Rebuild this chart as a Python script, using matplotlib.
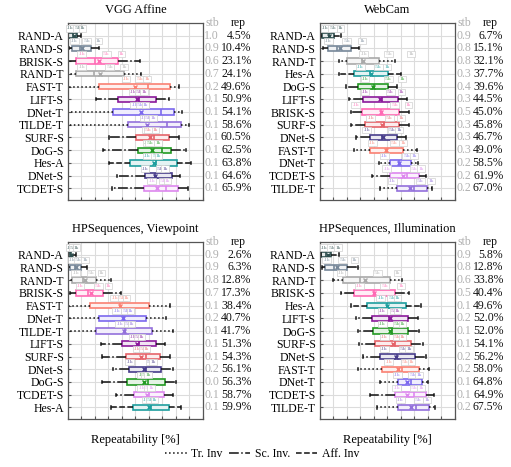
import matplotlib.pyplot as plt
from matplotlib.lines import Line2D
import matplotlib.colors as mcolors

plt.rcParams['font.family'] = 'Liberation Serif'

# ============================== DATA ==============================
# VGG Affine
vgg_names = ['RAND-A', 'RAND-S', 'BRISK-S', 'RAND-T', 'FAST-T', 'LIFT-S', 'DNet-T',
             'TILDE-T', 'SURF-S', 'DoG-S', 'Hes-A', 'DNet-S', 'TCDET-S']
vgg_stb = [1.0, 0.9, 0.6, 0.7, 0.2, 0.1, 0.1, 0.1, 0.1, 0.1, 0.1, 0.1, 0.1]
vgg_rep = [4.5, 10.4, 23.1, 24.1, 49.6, 50.9, 54.1, 58.6, 60.5, 62.5, 63.8, 64.6, 65.9]
vgg_lo = [0, 0.5, 0, 0, 0, 21, 0, 0, 30.4, 26, 30.4, 36.3, 32.8]
vgg_q1 = [0, 3.2, 6.2, 6.2, 22.7, 37, 33.3, 44.4, 50.6, 51.9, 45.7, 56.8, 56]
vgg_med = [4, 8.6, 19.8, 19.3, 59.3, 52.6, 68.6, 73.6, 64, 69.6, 65.4, 64.2, 72.8]
vgg_q3 = [7, 16.8, 37, 41.5, 75.3, 65.4, 78.5, 84, 74.6, 76.5, 80.7, 77.3, 81.5]
vgg_hi = [10, 22.7, 53.6, 54, 82, 74.8, 84.7, 89.6, 82.2, 87.2, 91.4, 82.7, 88.9]
vgg_k1 = [0, 3.2, 8.6, 8.6, 41.5, 46.9, 48, 55, 56.8, 57.3, 57.3, 55.6, 60.5]
vgg_k5 = [5.7, 12.3, 27, 29.6, 51.8, 51.3, 52, 58, 58, 59, 63.5, 66.7, 69.1]
vgg_k10 = [9.4, 21, 38.3, 40.2, 57, 55, 56, 61.7, 63.5, 65.4, 65.7, 70.4, 72.3]

# WebCam
web_names = ['RAND-A', 'RAND-S', 'RAND-T', 'Hes-A', 'DoG-S', 'LIFT-S', 'BRISK-S',
             'SURF-S', 'DNet-S', 'FAST-T', 'DNet-T', 'TCDET-S', 'TILDE-T']
web_stb = [0.9, 0.8, 0.8, 0.3, 0.4, 0.3, 0.5, 0.3, 0.3, 0.3, 0.2, 0.2, 0.2]
web_rep = [6.7, 15.1, 32.1, 37.7, 39.6, 44.5, 45.0, 45.8, 46.7, 49.0, 58.5, 61.9, 67.0]
web_lo = [0.5, 2.5, 14, 14, 19, 21.5, 23.2, 23.2, 26.4, 25.2, 43.7, 38.3, 44.2]
web_q1 = [1.7, 6.2, 19.8, 25.2, 28.4, 31.9, 30.9, 33.8, 37, 37, 51.9, 51.9, 57.3]
web_med = [6.7, 12.8, 30.9, 37.5, 40, 45.7, 45, 47.4, 46, 49.4, 58.5, 64.7, 69.6]
web_q3 = [10.4, 23.2, 43.7, 50.6, 50.6, 58, 59, 58.5, 57.3, 61.5, 67.2, 73.8, 79.5]
web_hi = [15.3, 28.9, 55.6, 59.8, 57.3, 64.7, 66.4, 66.4, 63.5, 72.1, 72.6, 78.8, 83.2]
web_k1 = [2.5, 4.9, 30.9, 28.4, 31.9, 31.9, 25.2, 36.3, 33.3, 37.5, 46.2, 48.1, 52.3]
web_k5 = [7.9, 18.5, 49.4, 41.7, 49.1, 50.6, 54.1, 49.9, 52.3, 53.6, 63, 68.4, 72.8]
web_k10 = [13.6, 29.6, 65.9, 48.1, 59.3, 59, 64, 58.5, 57.3, 60.2, 68.4, 73.3, 80.7]

# HPSequences, Viewpoint
vp_names = ['RAND-A', 'RAND-S', 'RAND-T', 'BRISK-S', 'FAST-T', 'DNet-T', 'TILDE-T',
            'LIFT-S', 'SURF-S', 'DNet-S', 'DoG-S', 'TCDET-S', 'Hes-A']
vp_stb = [0.9, 0.9, 0.8, 0.7, 0.1, 0.2, 0.1, 0.1, 0.1, 0.2, 0.0, 0.1, 0.1]
vp_rep = [2.6, 6.3, 12.8, 17.3, 38.4, 40.7, 41.7, 51.3, 54.3, 56.1, 56.3, 58.7, 59.9]
vp_lo = [0, 0, 0, 1.2, 0, 0, 0, 24.7, 25.4, 33.3, 25.4, 35.3, 31.6]
vp_q1 = [0, 1.2, 3.2, 5.7, 16.5, 23, 21, 40.2, 43.2, 45.2, 44, 48.9, 48.1]
vp_med = [1.5, 5, 11, 14.8, 38.3, 41.2, 42, 53, 58, 57.5, 59.3, 59.8, 61.7]
vp_q3 = [2.5, 9.4, 21, 26, 59.8, 58, 62.2, 65.4, 68.4, 69.1, 72, 70.9, 74.8]
vp_hi = [5.7, 14, 31.6, 39.5, 75.8, 72.8, 77.8, 72, 75.8, 77.8, 80.2, 77.8, 84]
vp_k1 = [0, 1.7, 4.2, 7.4, 33.3, 34.6, 37, 46.9, 49.9, 44.4, 53.1, 53.1, 56.3]
vp_k5 = [2.5, 6.2, 15.6, 21, 38.8, 41.2, 43.2, 50.6, 54.3, 59.3, 55.6, 58, 59.3]
vp_k10 = [4.9, 11.1, 23.5, 28.4, 42, 44.9, 45.7, 53.1, 56.8, 61.7, 58, 60, 62.5]

# HPSequences, Illumination
il_names = ['RAND-A', 'RAND-S', 'RAND-T', 'BRISK-S', 'Hes-A', 'LIFT-S', 'DoG-S',
            'SURF-S', 'DNet-S', 'FAST-T', 'DNet-T', 'TCDET-S', 'TILDE-T']
il_stb = [0.9, 0.8, 0.6, 0.5, 0.1, 0.2, 0.1, 0.1, 0.2, 0.2, 0.1, 0.1, 0.2]
il_rep = [5.8, 12.8, 33.8, 40.4, 49.6, 52.0, 52.0, 54.1, 56.2, 58.0, 64.8, 64.9, 67.5]
il_lo = [0.7, 1.7, 9.6, 15.3, 22.7, 26.4, 28.4, 28.9, 31.9, 28.4, 44.2, 37.5, 42.5]
il_q1 = [0.7, 3.7, 17, 25.2, 35, 38.8, 39.3, 41.2, 44.2, 46.2, 58, 55.6, 58]
il_med = [4.2, 10.4, 29.6, 40, 49.9, 51.1, 53.6, 55.6, 57.3, 61, 67.2, 69.6, 70.9]
il_q3 = [7.9, 19.8, 51.9, 56, 64.2, 65.2, 65.2, 67.7, 70.4, 73.3, 75.8, 78.8, 80.7]
il_hi = [14, 28.4, 61, 66.4, 75, 72.8, 73.3, 76.5, 78.8, 81.2, 80.2, 84.4, 85.7]
il_k1 = [1.7, 3.7, 14.1, 27.7, 43.7, 44.9, 44.9, 46.2, 46.2, 49.4, 56, 55.6, 58]
il_k5 = [7.2, 15.3, 41.2, 46.7, 51.9, 53.6, 56, 56, 60.2, 61.7, 67.2, 68.4, 71.4]
il_k10 = [12.1, 24, 56, 58.5, 56, 56, 59.8, 59.8, 64.7, 66.4, 72.1, 73.3, 77.8]

# ============================== STYLE ==============================
colors = {
    'RAND-A': '#2f4f4f', 'RAND-S': '#778899', 'RAND-T': '#a9a9a9',
    'BRISK-S': '#ff69b4', 'FAST-T': '#fa8072', 'LIFT-S': '#8b1a9b',
    'DNet-T': '#7b68ee', 'TILDE-T': '#9370db', 'SURF-S': '#e5646a',
    'DoG-S': '#229922', 'Hes-A': '#1e9e9e', 'DNet-S': '#483d8b',
    'TCDET-S': '#dd88ee',
}
linestyles = {'T': ':', 'S': '-.', 'A': '--'}


def lighten(c, f=0.88):
    r, g, b = mcolors.to_rgb(c)
    return (r + (1 - r) * f, g + (1 - g) * f, b + (1 - b) * f)


def panel(ax, title, names, stb, rep, lo, q1, med, q3, hi, k1, k5, k10, xlabel=False):
    for i, n in enumerate(names):
        c = colors[n]
        st = [dict(whislo=lo[i], q1=q1[i], med=med[i], q3=q3[i], whishi=hi[i],
                   mean=rep[i], fliers=[])]
        ax.bxp(st, positions=[i], widths=0.42, orientation='horizontal',
               showmeans=True, patch_artist=True, manage_ticks=False,
               capwidths=0.18,
               boxprops=dict(facecolor=lighten(c), edgecolor=c, lw=1.2),
               whiskerprops=dict(color='#111111', ls=linestyles[n[-1]], lw=1.1),
               capprops=dict(color='#111111', lw=1.1),
               medianprops=dict(color=c, lw=1.2),
               meanprops=dict(marker='x', markeredgecolor=c, markersize=3.5, mew=1.0))
        # labels for .1k / .5k / 1k keypoints
        for x, t in zip([k1[i], k5[i], k10[i]], ['.1k', '.5k', '1k']):
            ax.text(x + 1.5, i - 0.56, t, fontsize=3.8, color=c, alpha=0.85,
                    ha='center', va='center',
                    bbox=dict(boxstyle='square,pad=0.2', fc='white', ec='#d0d0d0', lw=0.5))
        ax.text(1.12, i, f'{stb[i]:.1f}', transform=ax.get_yaxis_transform(),
                ha='right', va='center', color='#b0b0b0', fontsize=8.5)
        ax.text(1.36, i, f'{rep[i]:.1f}%', transform=ax.get_yaxis_transform(),
                ha='right', va='center', color='#111111', fontsize=8.5)
    ax.text(1.07, -1.0, 'stb', transform=ax.get_yaxis_transform(),
            ha='center', va='center', color='#b0b0b0', fontsize=8.5)
    ax.text(1.26, -1.0, 'rep', transform=ax.get_yaxis_transform(),
            ha='center', va='center', color='#111111', fontsize=8.5)
    ax.set_xlim(0, 100)
    ax.set_ylim(12.9, -1.0)
    ax.set_xticks(range(0, 101, 10))
    ax.set_xticklabels([])
    ax.set_yticks(range(len(names)))
    ax.set_yticklabels(names, fontsize=8.5)
    ax.tick_params(direction='in', length=2, color='#555555', pad=3)
    ax.grid(True, color='#dcdcdc', lw=0.8)
    ax.set_axisbelow(True)
    for s in ax.spines.values():
        s.set_color('#555555')
        s.set_linewidth(0.9)
    ax.set_title(title, fontsize=9, pad=7)
    if xlabel:
        ax.set_xlabel('Repeatability [%]', fontsize=9, labelpad=8)


fig = plt.figure(figsize=(5.11, 4.67), dpi=100)
ax1 = fig.add_axes([0.133, 0.572, 0.264, 0.379])
ax2 = fig.add_axes([0.626, 0.572, 0.264, 0.379])
ax3 = fig.add_axes([0.133, 0.103, 0.264, 0.379])
ax4 = fig.add_axes([0.626, 0.103, 0.264, 0.379])

panel(ax1, 'VGG Affine', vgg_names, vgg_stb, vgg_rep, vgg_lo, vgg_q1, vgg_med, vgg_q3,
      vgg_hi, vgg_k1, vgg_k5, vgg_k10)
panel(ax2, 'WebCam', web_names, web_stb, web_rep, web_lo, web_q1, web_med, web_q3,
      web_hi, web_k1, web_k5, web_k10)
panel(ax3, 'HPSequences, Viewpoint', vp_names, vp_stb, vp_rep, vp_lo, vp_q1, vp_med,
      vp_q3, vp_hi, vp_k1, vp_k5, vp_k10, xlabel=True)
panel(ax4, 'HPSequences, Illumination', il_names, il_stb, il_rep, il_lo, il_q1, il_med,
      il_q3, il_hi, il_k1, il_k5, il_k10, xlabel=True)

handles = [Line2D([], [], color='#111111', ls=':', lw=1.1),
           Line2D([], [], color='#111111', ls='-.', lw=1.1),
           Line2D([], [], color='#111111', ls='--', lw=1.1)]
fig.legend(handles, ['Tr. Inv', 'Sc. Inv.', 'Aff. Inv'], loc='center',
           bbox_to_anchor=(0.513, 0.028), ncol=3, frameon=False, fontsize=8.5,
           handlelength=1.8, handletextpad=0.4, columnspacing=0.5)

fig.savefig('out.png', dpi=100)
